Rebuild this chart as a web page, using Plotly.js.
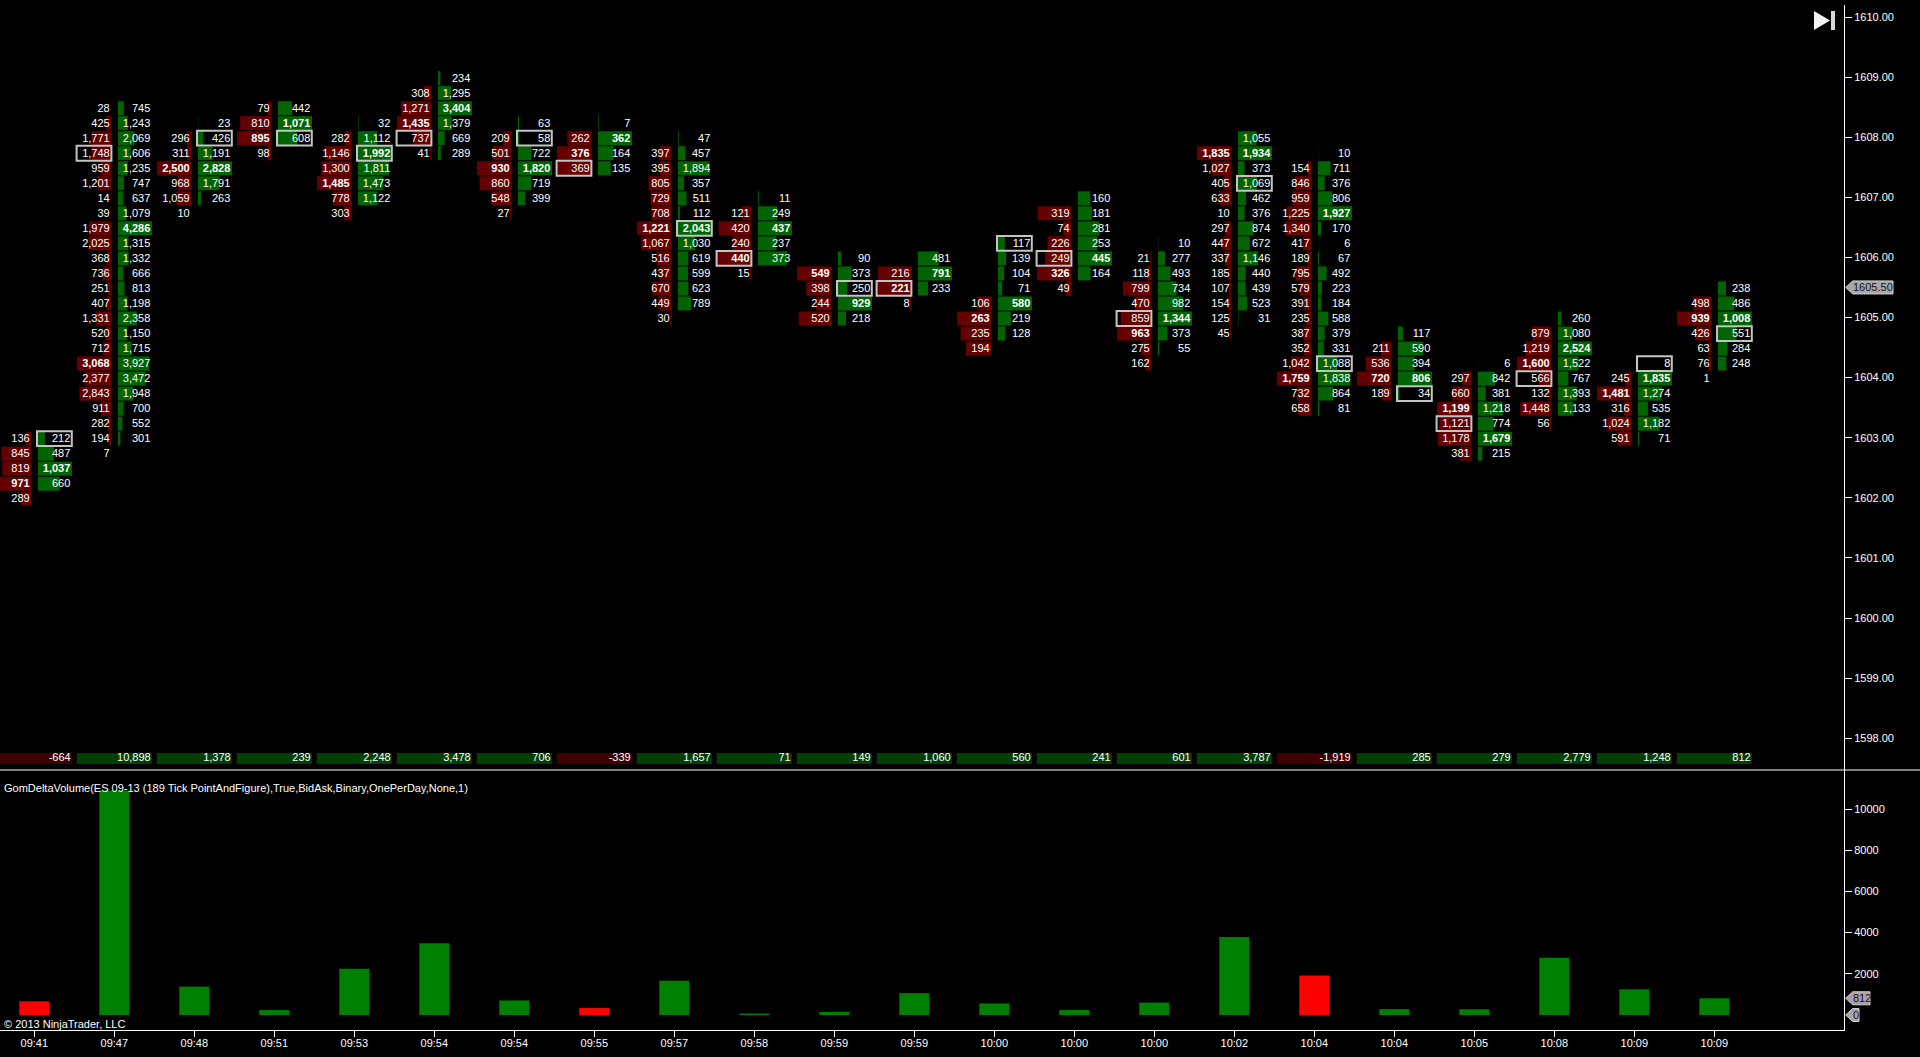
<!DOCTYPE html>
<html>
<head>
<meta charset="utf-8">
<title>GomDeltaVolume footprint chart</title>
<script src="https://cdn.plot.ly/plotly-3.0.1.min.js"></script>
<style>html,body{margin:0;padding:0;background:#000;overflow:hidden}#chart{width:1920px;height:1057px}</style>
</head>
<body>
<div id="chart"></div>
<script>
// ---------- data ----------
const times = ['09:41','09:47','09:48','09:51','09:53','09:54','09:54','09:55','09:57','09:58','09:59','09:59','10:00','10:00','10:00','10:02','10:04','10:04','10:05','10:08','10:09','10:09'];
const deltas = [-664,10898,1378,239,2248,3478,706,-339,1657,71,149,1060,560,241,601,3787,-1919,285,279,2779,1248,812];
// price of the first row of every bar; rows step down by one tick
const topPrices = [1603,1608.5,1608.25,1608.5,1608.25,1609,1608.25,1608.25,1608,1607,1606,1606,1606.25,1607,1606.25,1608,1607.75,1604.75,1604.25,1605,1604.25,1605.5];
const tickSize = 0.25;
const bidVolumes = [
 [136,845,819,971,289],
 [28,425,1771,1748,959,1201,14,39,1979,2025,368,736,251,407,1331,520,712,3068,2377,2843,911,282,194,7],
 [null,296,311,2500,968,1059,10],
 [79,810,895,98],
 [null,282,1146,1300,1485,778,303],
 [null,308,1271,1435,737,41],
 [null,209,501,930,860,548,27],
 [null,262,376,369],
 [null,397,395,805,729,708,1221,1067,516,437,670,449,30],
 [null,121,420,240,440,15],
 [null,549,398,244,520],
 [null,216,221,8],
 [null,null,null,null,106,263,235,194],
 [null,319,74,226,249,326,49],
 [null,21,118,799,470,859,963,275,162],
 [null,1835,1027,405,633,10,297,447,337,185,107,154,125,45],
 [null,154,846,959,1225,1340,417,189,795,579,391,235,387,352,1042,1759,732,658],
 [null,211,536,720,189],
 [null,297,660,1199,1121,1178,381],
 [null,879,1219,1600,566,132,1448,56],
 [null,245,1481,316,1024,591],
 [null,498,939,426,63,76,1]
];
const askVolumes = [
 [212,487,1037,660,null],
 [745,1243,2069,1606,1235,747,637,1079,4286,1315,1332,666,813,1198,2358,1150,1715,3927,3472,1948,700,552,301,null],
 [23,426,1191,2828,1791,263,null],
 [442,1071,608,null],
 [32,1112,1992,1811,1473,1122,null],
 [234,1295,3404,1379,669,289],
 [63,58,722,1820,719,399,null],
 [7,362,164,135],
 [47,457,1894,357,511,112,2043,1030,619,599,623,789,null],
 [11,249,437,237,373,null],
 [90,373,250,929,218],
 [481,791,233,null],
 [117,139,104,71,580,219,128,null],
 [160,181,281,253,445,164,null],
 [10,277,493,734,982,1344,373,55,null],
 [1055,1934,373,1069,462,376,874,672,1146,440,439,523,31,null],
 [10,711,376,806,1927,170,6,67,492,223,184,588,379,331,1088,1838,864,81],
 [117,590,394,806,34],
 [6,842,381,1218,774,1679,215],
 [260,1080,2524,1522,767,1393,1133,null],
 [8,1835,1274,535,1182,71],
 [238,486,1008,551,284,248,null]
];
// boxed cell of each bar: side and row index
const boxSides = ['ask','bid','ask','ask','ask','bid','ask','bid','ask','bid','ask','bid','ask','bid','bid','ask','ask','ask','bid','bid','ask','ask'];
const boxRows = [0,3,1,2,2,4,1,3,6,4,2,2,0,4,5,3,14,4,4,4,0,3];
const priceTicks = [1598,1599,1600,1601,1602,1603,1604,1605,1606,1607,1608,1609,1610];
const volumeTicks = [2000,4000,6000,8000,10000];
const lastPrice = 1605.5;
const lastVolume = 812;
const zeroVolume = 0;
const indicatorLabel = 'GomDeltaVolume(ES 09-13 (189 Tick PointAndFigure),True,BidAsk,Binary,OnePerDay,None,1)';
const copyrightLabel = '\u00A9 2013 NinjaTrader, LLC';

// ---------- page geometry ----------
const W = 1920, H = 1057, AXIS_X = 1844;
const PX_PER_BAR = 80, FIRST_BAR_X = 34.3;
const PX_PER_POINT = 60.1, PRICE_1610_Y = 17;
const VOL0_Y = 1015, PX_PER_VOL = 0.0206;
const TOP_Y = 5, SEP_Y = 770, BOTTOM_Y = 1030, DELTA_Y0 = 753, DELTA_Y1 = 764;
const ROW_SHIFT = 1 / PX_PER_POINT, TEXT_SHIFT = 0.7 / PX_PER_POINT;
const px = v => v / PX_PER_BAR;                       // pixels -> bar units
const fy = y => 1 - y / H;                            // page y -> paper y
const fx = x => x / W;
const priceAt = y => 1610 - (y - PRICE_1610_Y) / PX_PER_POINT;
const volAt = y => (VOL0_Y - y) / PX_PER_VOL;
const xEnd = (AXIS_X - FIRST_BAR_X) / PX_PER_BAR;
const FONT = 'Liberation Sans, Arial, sans-serif';
const fmt = v => v.toLocaleString('en-US');
const MAX_BAR = 34, BID_EDGE = -3.3, ASK_EDGE = 3.7, BID_TEXT = -4.6, ASK_TEXT = 36;

// ---------- traces ----------
const bid = {x:[],y:[],base:[],text:[],tx:[]};
const ask = {x:[],y:[],base:[],text:[],tx:[]};
const box = {x:[],y:[],base:[]};
times.forEach((_, i) => {
  const bMax = Math.max(...bidVolumes[i].filter(v => v != null));
  const aMax = Math.max(...askVolumes[i].filter(v => v != null));
  const fill = (side, vals, max, sign, edge, tOff) => vals.forEach((v, r) => {
    if (v == null) return;
    const p = topPrices[i] - r * tickSize - ROW_SHIFT;
    side.x.push(sign * px(v / max * MAX_BAR));
    side.y.push(p);
    side.base.push(i + px(edge));
    side.tx.push(i + px(tOff));
    side.text.push(v === max ? '<b>' + fmt(v) + '</b>' : fmt(v));
  });
  fill(bid, bidVolumes[i], bMax, -1, BID_EDGE, BID_TEXT);
  fill(ask, askVolumes[i], aMax, 1, ASK_EDGE, ASK_TEXT);
  box.x.push(px(34.8));
  box.y.push(topPrices[i] - boxRows[i] * tickSize - ROW_SHIFT);
  box.base.push(i + px(boxSides[i] === 'bid' ? -37.7 : 2.7));
});
const cellH = 14 / PX_PER_POINT;
const idx = times.map((_, i) => i);
const textFont = {family: FONT, size: 11, color: '#ffffff'};

const traces = [
  {type:'bar', orientation:'h', x:bid.x, y:bid.y, base:bid.base, width:cellH, marker:{color:'#660000', line:{width:0}}, xaxis:'x', yaxis:'y'},
  {type:'bar', orientation:'h', x:ask.x, y:ask.y, base:ask.base, width:cellH, marker:{color:'#006400', line:{width:0}}, xaxis:'x', yaxis:'y'},
  {type:'bar', orientation:'h', x:box.x, y:box.y, base:box.base, width:14.8 / PX_PER_POINT, marker:{color:'rgba(0,0,0,0)', line:{width:2, color:'#c4c4c4'}}, xaxis:'x', yaxis:'y'},
  {type:'scatter', mode:'text', x:bid.tx, y:bid.y.map(v => v - TEXT_SHIFT), text:bid.text, textposition:'middle left', textfont:textFont, xaxis:'x', yaxis:'y', cliponaxis:false},
  {type:'scatter', mode:'text', x:ask.tx, y:ask.y.map(v => v - TEXT_SHIFT), text:ask.text, textposition:'middle left', textfont:textFont, xaxis:'x', yaxis:'y', cliponaxis:false},
  {type:'bar', x:idx, y:deltas.map(() => 1), width:px(75), marker:{color:deltas.map(d => d < 0 ? '#400000' : '#004000'), line:{width:0}}, xaxis:'x', yaxis:'y3'},
  {type:'scatter', mode:'text', x:idx.map(i => i + px(36.4)), y:deltas.map(() => 0.5), text:deltas.map(fmt), textposition:'middle left', textfont:textFont, xaxis:'x', yaxis:'y3', cliponaxis:false},
  {type:'bar', x:idx, y:deltas.map(Math.abs), width:px(30), marker:{color:deltas.map(d => d < 0 ? '#ff0000' : '#008000'), line:{width:0}}, xaxis:'x', yaxis:'y2'}
];

// ---------- layout ----------
const tagBody = (len) => 'M1.7,0 L8.7,6.5 L' + len + ',6.5 L' + len + ',-6.5 L8.7,-6.5 Z';
const tag = (yref, value, len, fill) => ({type:'path', layer:'above', xref:'paper', yref:yref, xsizemode:'pixel', ysizemode:'pixel', xanchor:fx(AXIS_X), yanchor:value, path:tagBody(len), fillcolor:fill, line:{color:'#d0d0d0', width:1}});
const tagText = (yref, value, label, dx) => ({xref:'paper', yref:yref, x:fx(AXIS_X), y:value, xanchor:'left', yanchor:'middle', xshift:dx, text:label, showarrow:false, font:{family:FONT, size:11, color:'#1a1020'}, borderpad:0});
const p = (x, y) => fx(x) + ',' + fy(y);
const layout = {
  width: W, height: H,
  margin: {l:0, r:0, t:0, b:0, pad:0},
  paper_bgcolor: '#000', plot_bgcolor: 'rgba(0,0,0,0)',
  showlegend: false, hovermode: false, barmode: 'overlay',
  font: {family: FONT, size: 11, color: '#ffffff'},
  xaxis: {domain:[0, fx(AXIS_X)], range:[-FIRST_BAR_X / PX_PER_BAR, xEnd], anchor:'y2', tickmode:'array', tickvals:idx, ticktext:times,
          showgrid:false, zeroline:false, showline:true, linecolor:'#fff', linewidth:1, ticks:'outside', ticklen:6, tickwidth:1, tickcolor:'#fff',
          tickfont:{family:FONT, size:11, color:'#fff'}, tickangle:0, ticklabelstandoff:-3},
  yaxis: {domain:[fy(SEP_Y), fy(TOP_Y)], range:[priceAt(SEP_Y), priceAt(TOP_Y)], anchor:'x', side:'right', tickmode:'array', tickvals:priceTicks, ticktext:priceTicks.map(v => v.toFixed(2)),
          showgrid:false, zeroline:false, showline:true, linecolor:'#fff', linewidth:1, ticks:'outside', ticklen:7, tickwidth:1, tickcolor:'#fff',
          tickfont:{family:FONT, size:11, color:'#fff'}},
  yaxis2: {domain:[fy(BOTTOM_Y), fy(SEP_Y)], range:[volAt(BOTTOM_Y), volAt(SEP_Y)], anchor:'x', side:'right', tickmode:'array', tickvals:volumeTicks, ticktext:volumeTicks.map(String),
          showgrid:false, zeroline:false, showline:true, linecolor:'#fff', linewidth:1, ticks:'outside', ticklen:7, tickwidth:1, tickcolor:'#fff',
          tickfont:{family:FONT, size:11, color:'#fff'}},
  yaxis3: {domain:[fy(DELTA_Y1), fy(DELTA_Y0)], range:[0, 1], anchor:'x', visible:false, fixedrange:true},
  shapes: [
    {type:'line', xref:'paper', yref:'paper', x0:0, x1:1, y0:fy(SEP_Y), y1:fy(SEP_Y), line:{color:'#fff', width:1}},
    {type:'path', xref:'paper', yref:'paper', path:'M' + p(1814,11) + ' L' + p(1830,20.5) + ' L' + p(1814,30) + ' Z', fillcolor:'#f2f2f2', line:{width:0}},
    {type:'rect', xref:'paper', yref:'paper', x0:fx(1831), x1:fx(1835), y0:fy(30), y1:fy(11), fillcolor:'#d8d8d8', line:{width:0}},
    tag('y', lastPrice, 49, '#a8a8a8'),
    tag('y2', lastVolume, 26, '#a8a0a8'),
    tag('y2', zeroVolume, 15, '#a8a8a8')
  ],
  annotations: [
    {xref:'paper', yref:'paper', x:fx(2.5), y:fy(788), xanchor:'left', yanchor:'middle', text:indicatorLabel, showarrow:false, font:{family:FONT, size:11, color:'#fff'}, borderpad:0},
    {xref:'paper', yref:'paper', x:fx(2.5), y:fy(1024), xanchor:'left', yanchor:'middle', text:copyrightLabel, showarrow:false, font:{family:FONT, size:11, color:'#fff'}, borderpad:0},
    tagText('y', lastPrice, '1605.50', 8),
    tagText('y2', lastVolume, '812', 8),
    tagText('y2', zeroVolume, '0', 8)
  ]
};
Plotly.newPlot('chart', traces, layout, {displayModeBar:false, staticPlot:true, responsive:false});
</script>
</body>
</html>
